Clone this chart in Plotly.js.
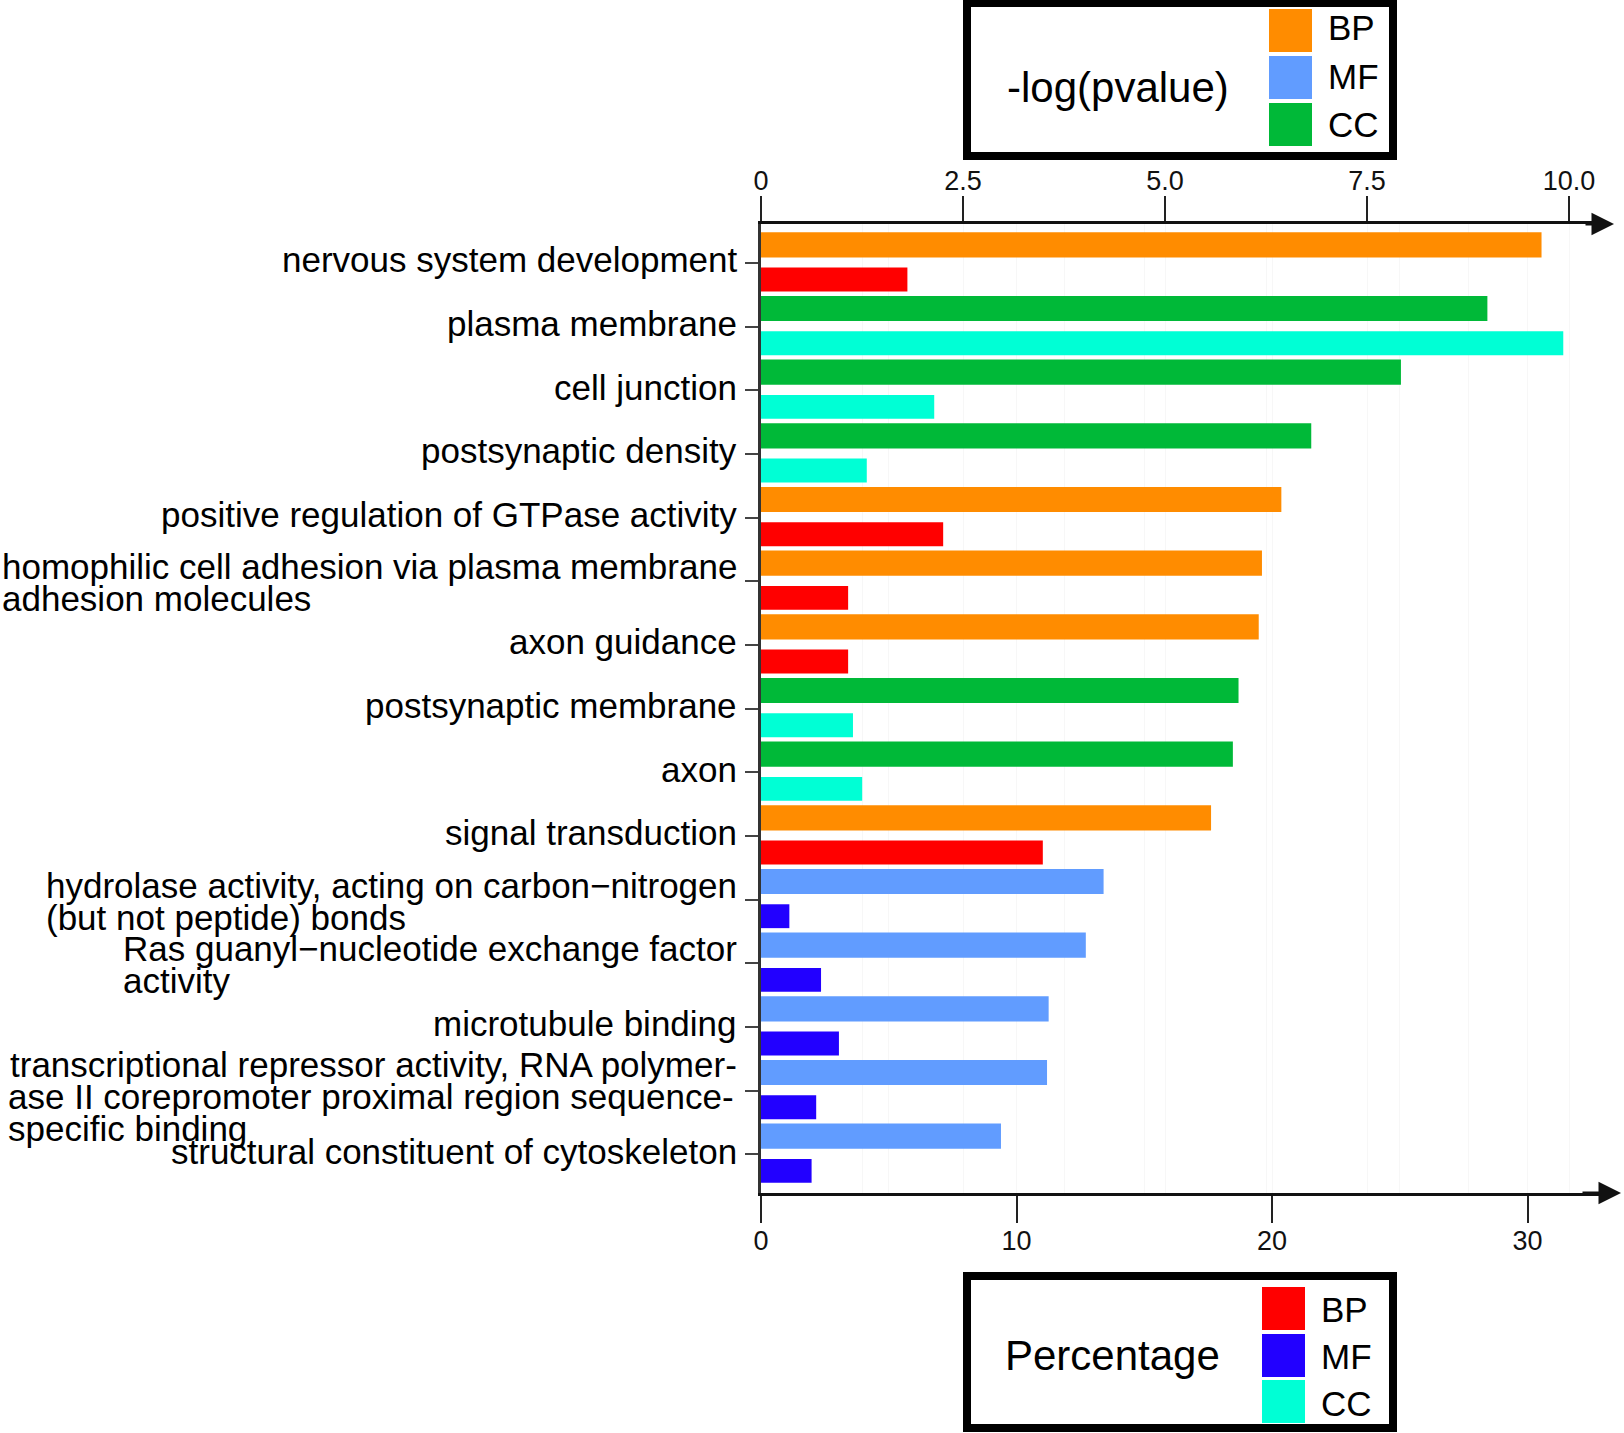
<!DOCTYPE html>
<html>
<head>
<meta charset="utf-8">
<script src="https://cdn.plot.ly/plotly-3.0.1.min.js"></script>
<style>
	body { margin: 0; background: #fff; }
	#chart { width: 1624px; height: 1433px; }
</style>
</head>
<body>
<div id="chart"></div>
<script>
// GO terms, top to bottom
const categories = [
	'nervous system development',
	'plasma membrane',
	'cell junction',
	'postsynaptic density',
	'positive regulation of GTPase activity',
	'homophilic cell adhesion via plasma membrane\nadhesion molecules',
	'axon guidance',
	'postsynaptic membrane',
	'axon',
	'signal transduction',
	'hydrolase activity, acting on carbon\u2212nitrogen\n(but not peptide) bonds',
	'Ras guanyl\u2212nucleotide exchange factor\nactivity',
	'microtubule binding',
	'transcriptional repressor activity, RNA polymer-\nase II corepromoter proximal region sequence-\nspecific binding',
	'structural constituent of cytoskeleton'
];
const ontology = ['BP', 'CC', 'CC', 'CC', 'BP', 'BP', 'BP', 'CC', 'CC', 'BP', 'MF', 'MF', 'MF', 'MF', 'MF'];
const logPvalue = [9.66, 8.99, 7.92, 6.81, 6.44, 6.20, 6.16, 5.91, 5.84, 5.57, 4.24, 4.02, 3.56, 3.54, 2.97];
const percentage = [5.73, 31.4, 6.78, 4.14, 7.13, 3.41, 3.41, 3.60, 3.96, 11.03, 1.11, 2.35, 3.05, 2.16, 1.98];

const pvalueTicks = [0, 2.5, 5, 7.5, 10];
const pvalueTickText = ['0', '2.5', '5.0', '7.5', '10.0'];
const percentTicks = [0, 10, 20, 30];

const legendKeys = ['BP', 'MF', 'CC'];
const pvalueColors = {BP: '#FF8C00', MF: '#619CFF', CC: '#00B938'};
const percentColors = {BP: '#FF0000', MF: '#2200FF', CC: '#00FFD5'};

// page geometry (pixels)
const W = 1624, H = 1433;
const L = 761, R = 1600, T = 224, B = 1193;
const FONT = '"Liberation Sans", Arial, sans-serif';
const LABEL_SIZE = 35;
const LINE_STEP = 32;

function px(x) { return (x - L) / (R - L); }
function py(y) { return (B - y) / (B - T); }

const measureCtx = document.createElement('canvas').getContext('2d');
function textWidth(s, size) {
	measureCtx.font = size + 'px ' + FONT;
	return measureCtx.measureText(s).width;
}

const idx = categories.map((c, i) => i);

let data = [
	{
		type: 'bar',
		orientation: 'h',
		x: logPvalue,
		y: idx,
		xaxis: 'x2',
		yaxis: 'y',
		width: 0.395,
		offset: -0.48,
		marker: {color: ontology.map(o => pvalueColors[o]), line: {width: 0}},
		showlegend: false,
		hoverinfo: 'x'
	},
	{
		type: 'bar',
		orientation: 'h',
		x: percentage,
		y: idx,
		xaxis: 'x',
		yaxis: 'y',
		width: 0.375,
		offset: 0.075,
		marker: {color: ontology.map(o => percentColors[o]), line: {width: 0}},
		showlegend: false,
		hoverinfo: 'x'
	}
];

let annotations = [];
let shapes = [];

// category labels: first line right-aligned at the tick, other lines left-aligned under it
const labelRight = -22;
categories.forEach((label, i) => {
	const lines = label.split('\n');
	const n = lines.length;
	const left = labelRight - textWidth(lines[0], LABEL_SIZE) - 4;
	lines.forEach((line, j) => {
		annotations.push({
			xref: 'paper', yref: 'y',
			x: 0, y: i,
			xshift: j === 0 ? labelRight : left,
			yshift: 3 - (n - 1) * 4.5 - (j - (n - 1) / 2) * LINE_STEP,
			xanchor: j === 0 ? 'right' : 'left',
			yanchor: 'middle',
			text: line,
			showarrow: false,
			font: {family: FONT, size: LABEL_SIZE, color: '#000'}
		});
	});
});

// arrow heads on both x axes
function axisArrow(tipX, yPaper, len) {
	annotations.push({
		xref: 'paper', yref: 'paper',
		x: px(tipX), y: yPaper,
		ax: -len, ay: 0,
		text: '',
		showarrow: true,
		arrowhead: 2,
		arrowsize: 1.5,
		arrowwidth: 3,
		arrowcolor: '#111'
	});
}
axisArrow(1614, 1, 30);
axisArrow(1621, 0, 40);

// boxed legends
function legendBox(box, title, titleX, titleY, swX, swY, labelX, labelY, colors) {
	shapes.push({
		type: 'rect', xref: 'paper', yref: 'paper', layer: 'above',
		x0: px(box[0]), x1: px(box[1]), y0: py(box[2]), y1: py(box[3]),
		line: {color: '#000', width: 8}, fillcolor: 'rgba(255,255,255,0)'
	});
	annotations.push({
		xref: 'paper', yref: 'paper', x: px(titleX), y: py(titleY),
		xanchor: 'center', yanchor: 'middle', showarrow: false,
		text: title, font: {family: FONT, size: 42, color: '#000'}
	});
	legendKeys.forEach((k, j) => {
		shapes.push({
			type: 'rect', xref: 'paper', yref: 'paper', layer: 'above',
			x0: px(swX), x1: px(swX + 43), y0: py(swY[j]), y1: py(swY[j] + 43),
			line: {width: 0}, fillcolor: colors[k]
		});
		annotations.push({
			xref: 'paper', yref: 'paper', x: px(labelX), y: py(labelY[j]),
			xanchor: 'left', yanchor: 'middle', showarrow: false,
			text: k, font: {family: FONT, size: 35, color: '#000'}
		});
	});
}
legendBox([967, 1393, 3, 156], '-log(pvalue)', 1118, 87, 1269, [9, 56, 103], 1326, [28, 76, 124], pvalueColors);
legendBox([967, 1393, 1276, 1428], 'Percentage', 1112, 1355, 1262, [1287, 1334, 1380], 1319, [1309, 1356, 1403], percentColors);

const tickFont = {family: FONT, size: 27, color: '#111'};

let layout = {
	width: W,
	height: H,
	margin: {l: L, r: W - R, t: T, b: H - B, pad: 0},
	paper_bgcolor: '#fff',
	plot_bgcolor: '#fff',
	barmode: 'overlay',
	showlegend: false,
	xaxis: {
		range: [0, (R - L) / 25.55],
		tickvals: percentTicks,
		ticks: 'outside',
		ticklen: 27,
		tickwidth: 2,
		tickcolor: '#222',
		tickfont: tickFont,
		ticklabelstandoff: -5,
		showline: true,
		linewidth: 3,
		linecolor: '#111',
		showgrid: false,
		zeroline: false,
		minor: {dtick: 5, showgrid: true, gridcolor: '#f7f7f7', gridwidth: 1}
	},
	xaxis2: {
		overlaying: 'x',
		side: 'top',
		anchor: 'y',
		range: [0, (R - L) / 80.8],
		tickvals: pvalueTicks,
		ticktext: pvalueTickText,
		ticks: 'outside',
		ticklen: 25,
		tickwidth: 2,
		tickcolor: '#222',
		tickfont: tickFont,
		ticklabelstandoff: -5,
		showline: true,
		linewidth: 3,
		linecolor: '#111',
		showgrid: false,
		zeroline: false,
		minor: {dtick: 1.25, showgrid: true, gridcolor: '#f7f7f7', gridwidth: 1}
	},
	yaxis: {
		range: [categories.length - 1 + 0.61, -0.61],
		tickvals: idx,
		showticklabels: false,
		ticks: 'outside',
		ticklen: 13,
		tickwidth: 2,
		tickcolor: '#444',
		showline: true,
		linewidth: 3,
		linecolor: '#333',
		showgrid: false,
		zeroline: false
	},
	annotations: annotations,
	shapes: shapes
};

Plotly.newPlot('chart', data, layout, {displayModeBar: false, staticPlot: true});
</script>
</body>
</html>
